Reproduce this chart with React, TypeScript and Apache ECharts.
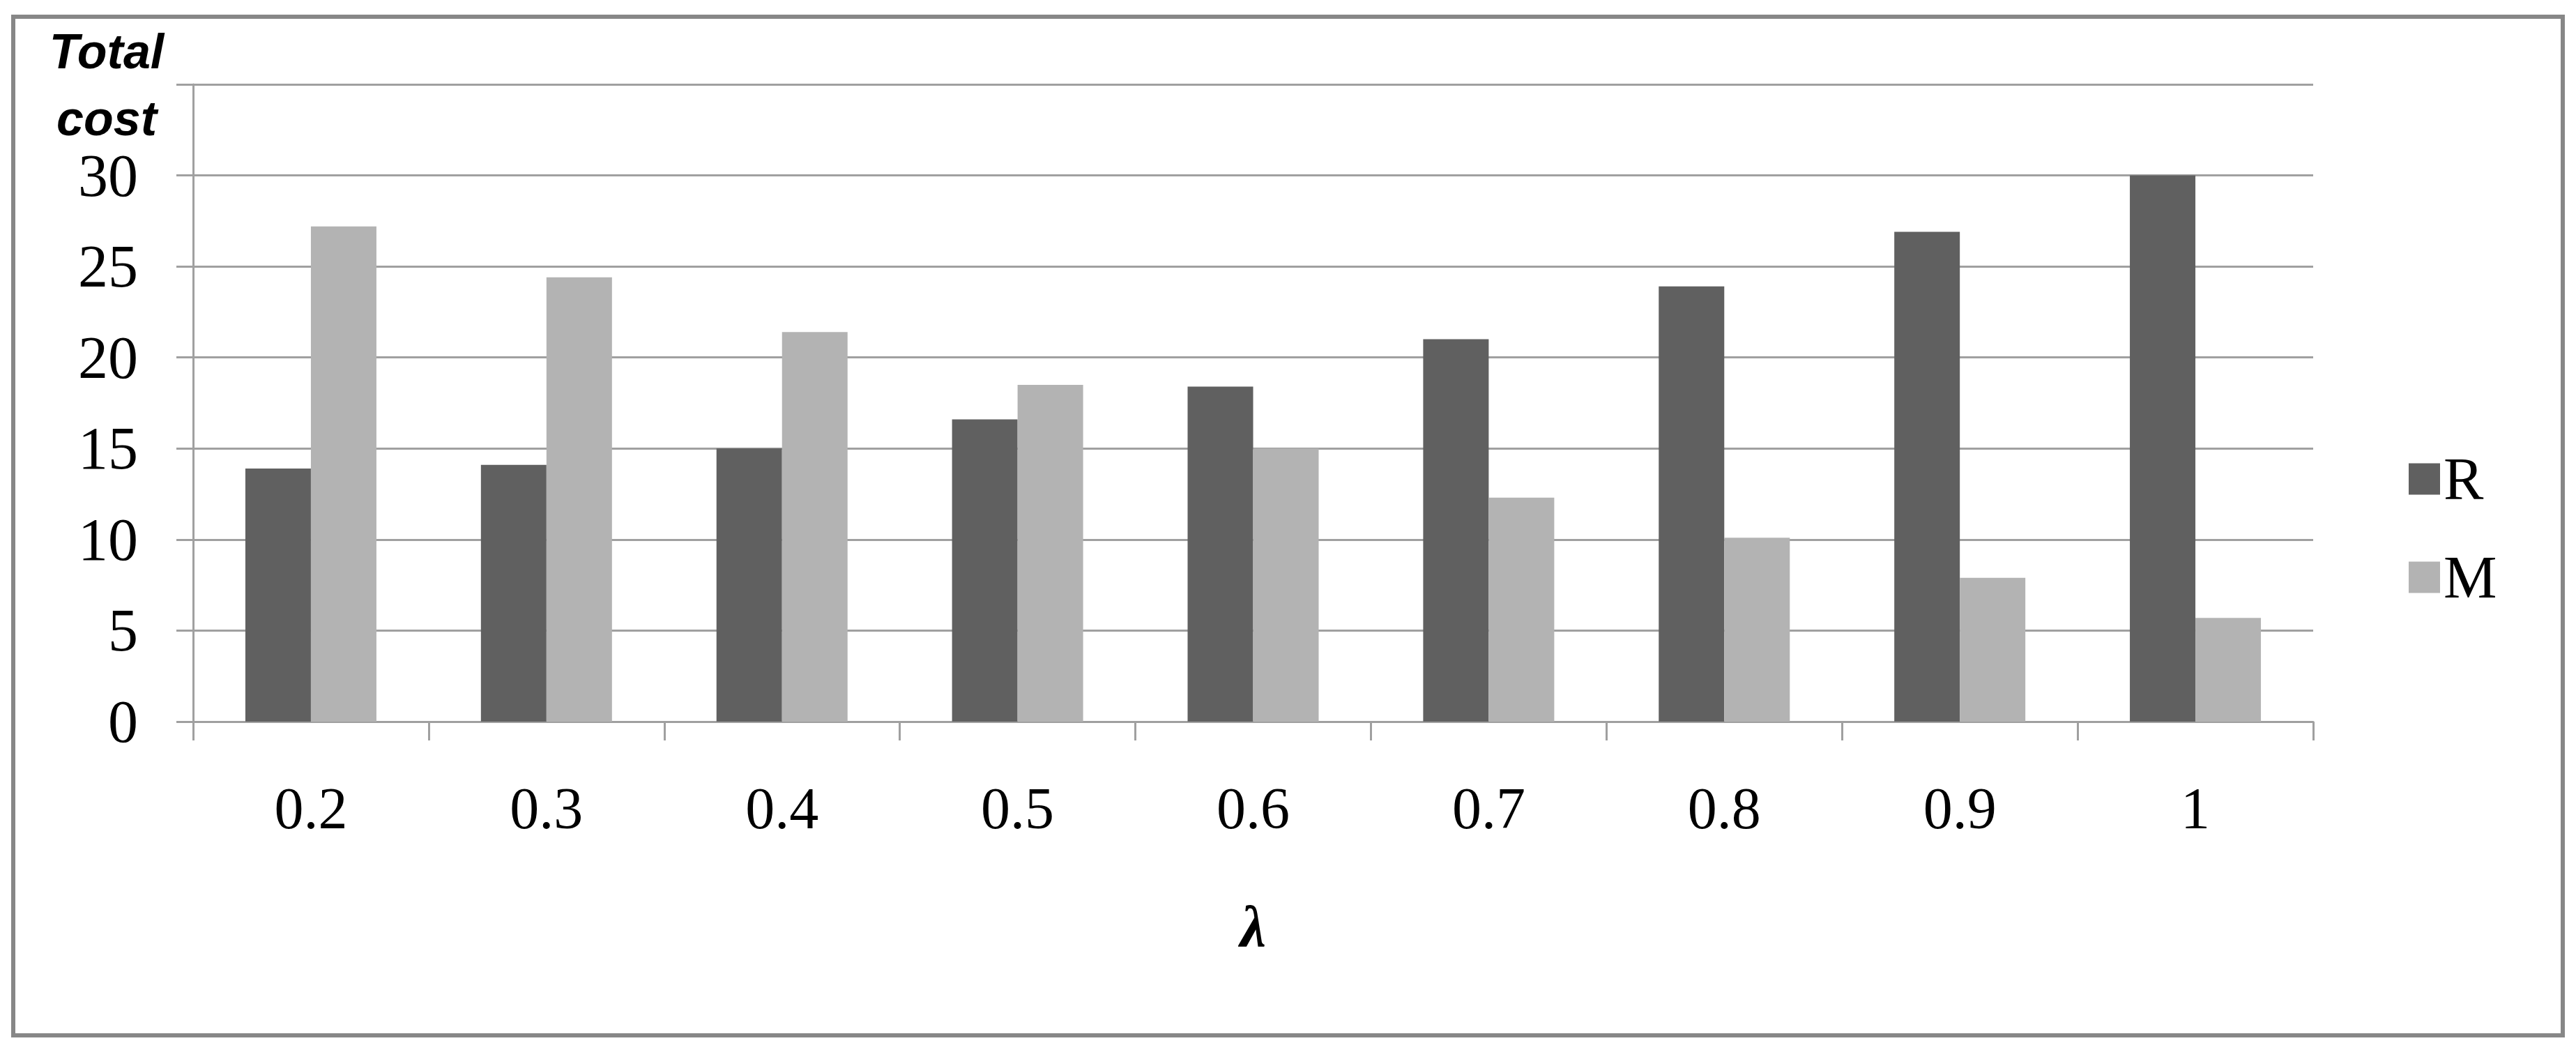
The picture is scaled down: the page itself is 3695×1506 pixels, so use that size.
import React, { useEffect, useRef } from "react";
import * as echarts from "echarts";

const categories = ["0.2", "0.3", "0.4", "0.5", "0.6", "0.7", "0.8", "0.9", "1"];
const seriesR = [13.9, 14.1, 15.0, 16.6, 18.4, 21.0, 23.9, 26.9, 30.0];
const seriesM = [27.2, 24.4, 21.4, 18.5, 15.0, 12.3, 10.1, 7.9, 5.7];
const seriesNames = ["R", "M"];
const yAxisTitle = "Total\ncost";
const xAxisTitle = "λ";

const SERIF = "'Liberation Serif', 'Times New Roman', serif";
const SANS = "'Liberation Sans', Arial, sans-serif";
const GRID_COLOR = "#a0a0a0";

export default function App() {
  const ref = useRef<HTMLDivElement>(null);

  useEffect(() => {
    if (!ref.current) return;
    const chart = echarts.init(ref.current, undefined, { renderer: "svg" });
    chart.setOption({
      animation: false,
      backgroundColor: "#ffffff",
      grid: { left: 277, right: 377, top: 121, bottom: 471, containLabel: false },
      legend: {
        data: seriesNames,
        orient: "vertical",
        left: 3450,
        top: 639,
        itemWidth: 45,
        itemHeight: 45,
        itemGap: 55,
        icon: "rect",
        textStyle: { fontFamily: SERIF, fontSize: 86, color: "#000" },
      },
      xAxis: {
        type: "category",
        data: categories,
        name: xAxisTitle,
        nameLocation: "middle",
        nameGap: 251,
        nameTextStyle: {
          fontFamily: SERIF,
          fontSize: 84,
          fontWeight: "bold",
          fontStyle: "italic",
          color: "#000",
        },
        axisLine: { show: true, lineStyle: { color: GRID_COLOR, width: 3 } },
        axisTick: { show: true, alignWithLabel: false, length: 27, lineStyle: { color: GRID_COLOR, width: 3 } },
        axisLabel: { fontFamily: SERIF, fontSize: 84, color: "#000", margin: 82 },
        splitLine: { show: false },
      },
      yAxis: {
        type: "value",
        min: 0,
        max: 35,
        interval: 5,
        axisLine: { show: true, lineStyle: { color: GRID_COLOR, width: 3 } },
        axisTick: { show: true, length: 24, lineStyle: { color: GRID_COLOR, width: 3 } },
        axisLabel: {
          fontFamily: SERIF,
          fontSize: 86,
          color: "#000",
          margin: 79,
          formatter: (v: number) => (v >= 35 ? "" : String(v)),
        },
        splitLine: { show: true, lineStyle: { color: GRID_COLOR, width: 3 } },
      },
      series: [
        {
          name: seriesNames[0],
          type: "bar",
          data: seriesR,
          barWidth: 94,
          barGap: "0%",
          itemStyle: { color: "#606060" },
        },
        {
          name: seriesNames[1],
          type: "bar",
          data: seriesM,
          barWidth: 94,
          barGap: "0%",
          itemStyle: { color: "#b3b3b3" },
        },
      ],
      graphic: [
        {
          type: "rect",
          shape: { x: 19, y: 24, width: 3657, height: 1461 },
          style: { fill: "none", stroke: "#878787", lineWidth: 6 },
          silent: true,
        },
        {
          type: "text",
          x: 153,
          y: 122,
          style: {
            text: yAxisTitle,
            fontFamily: SANS,
            fontSize: 70,
            fontWeight: "bold",
            fontStyle: "italic",
            fill: "#000",
            align: "center",
            verticalAlign: "middle",
            lineHeight: 96,
          },
        },
      ],
    });
    return () => chart.dispose();
  }, []);

  return (
    <div
      ref={ref}
      style={{ position: "absolute", left: 0, top: 0, width: 3695, height: 1506 }}
    />
  );
}
